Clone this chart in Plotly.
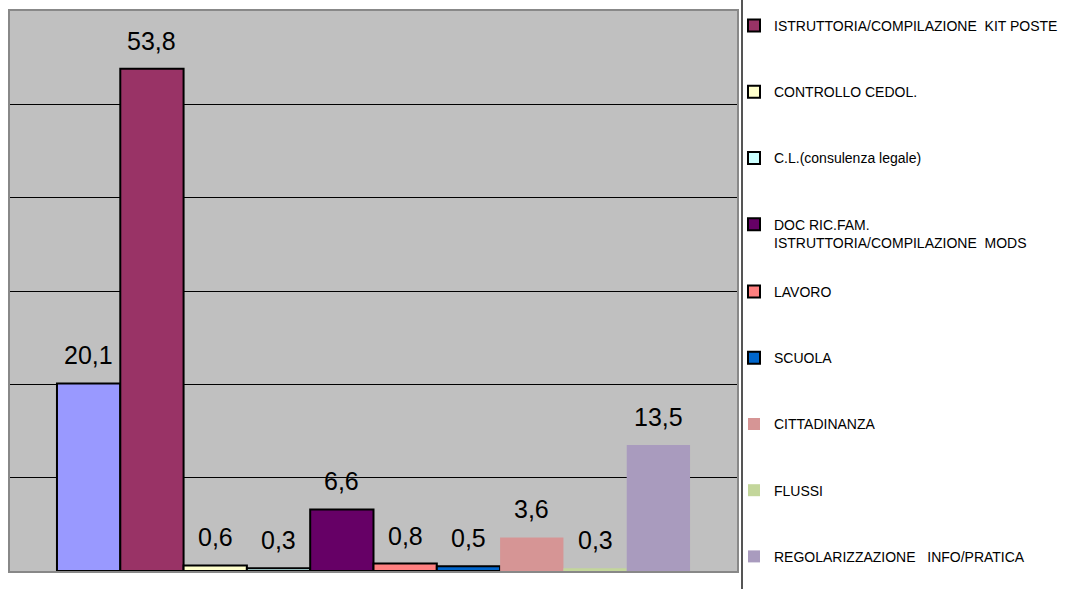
import plotly.graph_objects as go

names = [
    "",
    "ISTRUTTORIA/COMPILAZIONE  KIT POSTE",
    "CONTROLLO CEDOL.",
    "C.L.(consulenza legale)",
    "DOC RIC.FAM.<br>ISTRUTTORIA/COMPILAZIONE  MODS",
    "LAVORO",
    "SCUOLA",
    "CITTADINANZA",
    "FLUSSI",
    "REGOLARIZZAZIONE   INFO/PRATICA",
]
values = [20.1, 53.8, 0.6, 0.3, 6.6, 0.8, 0.5, 3.6, 0.3, 13.5]
labels = ["20,1", "53,8", "0,6", "0,3", "6,6", "0,8", "0,5", "3,6", "0,3", "13,5"]
colors = ["#9999FF", "#993366", "#FFFFCC", "#CCFFFF", "#660066",
          "#FF8080", "#0066CC", "#D69595", "#C3D69B", "#A99BBE"]
outlined = [True, True, True, True, True, True, True, False, False, False]
legend_ids = [None, "legend", "legend", "legend", "legend",
              "legend2", "legend2", "legend2", "legend2", "legend2"]

FONT = "Liberation Sans, Arial, sans-serif"
LEG_SIZE = 14

fig = go.Figure()
for i, (n, v, c, o, lg) in enumerate(zip(names, values, colors, outlined, legend_ids)):
    fig.add_trace(go.Bar(
        x=[i], y=[v], width=1, name=n,
        marker=dict(color=c, line=dict(color="black", width=2 if o else 0)),
        showlegend=lg is not None,
        legend=lg if lg else "legend",
        legendgroup=f"g{i}",
        hoverinfo="skip",
    ))
    fig.add_annotation(x=i, y=v, text=labels[i], showarrow=False,
                       yanchor="bottom", yshift=12,
                       font=dict(family=FONT, size=25, color="black"))

W, H = 1074, 589
ml, mr, mt, mb = 10, 337, 11, 18
pw, ph = W - ml - mr, H - mt - mb

fig.add_shape(type="line", xref="paper", yref="paper",
              x0=(742 - ml) / pw, x1=(742 - ml) / pw,
              y0=-mb / ph, y1=1 + mt / ph,
              line=dict(color="#555555", width=2))

leg_common = dict(
    font=dict(family=FONT, size=LEG_SIZE, color="black"),
    bgcolor="rgba(0,0,0,0)", borderwidth=0,
    traceorder="grouped", tracegroupgap=45,
    xanchor="left", yanchor="top", valign="top",
)
fig.update_layout(
    width=W, height=H,
    margin=dict(l=ml, r=mr, t=mt, b=mb, pad=0, autoexpand=False),
    paper_bgcolor="white", plot_bgcolor="#C0C0C0",
    barmode="overlay",
    font=dict(family=FONT),
    xaxis=dict(range=[-1.242, 10.242], showticklabels=False, showgrid=False,
               zeroline=False, showline=True, mirror=True,
               linecolor="#888888", linewidth=2, fixedrange=True),
    yaxis=dict(range=[0, 60], dtick=10, showticklabels=False, showgrid=True,
               gridcolor="black", gridwidth=1, zeroline=False,
               showline=True, mirror=True, linecolor="#888888", linewidth=2,
               fixedrange=True),
    legend=dict(x=(734 - ml) / pw, y=(571 - 10) / ph, **leg_common),
    legend2=dict(x=(734 - ml) / pw, y=(571 - 276) / ph, **leg_common),
)

fig.write_html("out.html")
